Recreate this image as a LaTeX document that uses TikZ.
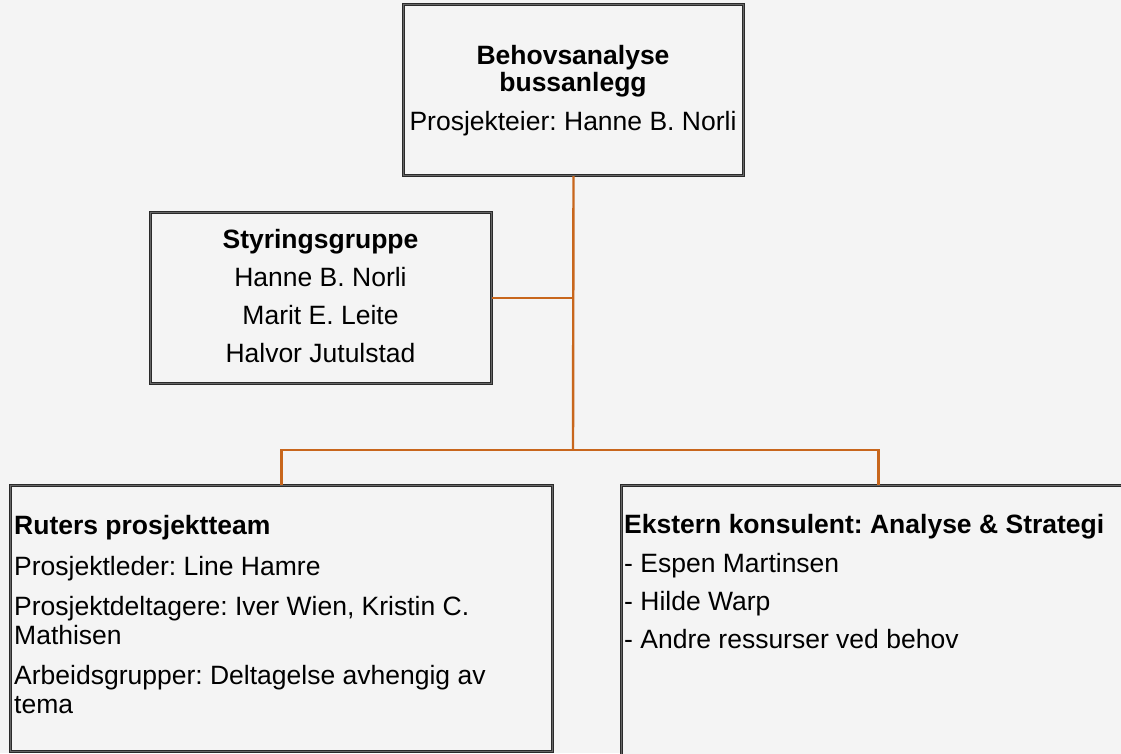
\documentclass[tikz,border=0pt]{standalone}
\usepackage{fontspec}
\setmainfont{Liberation Sans}
\frenchspacing
\definecolor{bg}{HTML}{F4F4F4}
\definecolor{conncol}{HTML}{C8661C}
\definecolor{boxline}{HTML}{2A2A2A}
\begin{document}
\begin{tikzpicture}[x=1pt,y=-1pt,
  box/.style={draw=boxline, double=gray!80!black, double distance=0.4pt, line width=1pt, fill=bg, inner sep=0pt, anchor=north west},
  conn/.style={draw=conncol, line width=2.4pt},
  txt/.style={inner sep=0pt, font=\fontsize{26.5}{30}\selectfont},
  btxt/.style={txt, font=\fontsize{26.5}{30}\selectfont\bfseries}]
\useasboundingbox (0,0) rectangle (1121,753);
\fill[bg] (0,0) rectangle (1121,753);
\clip (0,0) rectangle (1121,753);
% boxes
\node[box, minimum width=340pt, minimum height=171pt] (top) at (403,4) {};
\node[box, minimum width=341pt, minimum height=171pt] (styr) at (150,212) {};
\node[box, minimum width=542pt, minimum height=266pt] (left) at (10,485) {};
\node[box, minimum width=514pt, minimum height=290pt] (right) at (621,485) {};
% connectors
\coordinate (j2) at (573,450);
\draw[conn] (top.south) -- (j2);
\draw[conn] (styr.east) -- (styr.east -| top.south);
\draw[conn] (left.north) |- (j2) -| (right.north);
% top box text
\node[btxt, anchor=base] (t1) at (573,64) {Behovsanalyse};
\node[btxt, anchor=base] (t2) at (573,91) {bussanlegg};
\node[txt, anchor=base] (t3) at (573,130) {Prosjekteier: Hanne B. Norli};
% styringsgruppe
\node[btxt, anchor=base] (s1) at (320.5,248) {Styringsgruppe};
\node[txt, anchor=base] (s2) at (320.5,286) {Hanne B. Norli};
\node[txt, anchor=base] (s3) at (320.5,324) {Marit E. Leite};
\node[txt, anchor=base] (s4) at (320.5,362) {Halvor Jutulstad};
% left box
\node[btxt, anchor=base west] (l1) at (14,534) {Ruters prosjektteam};
\node[txt, anchor=base west] (l2) at (14,575) {Prosjektleder: Line Hamre};
\node[txt, anchor=base west] (l3) at (14,615) {Prosjektdeltagere: Iver Wien, Kristin C.};
\node[txt, anchor=base west] (l4) at (14,644) {Mathisen};
\node[txt, anchor=base west] (l5) at (14,684) {Arbeidsgrupper: Deltagelse avhengig av};
\node[txt, anchor=base west] (l6) at (14,713) {tema};
% right box
\node[btxt, anchor=base west] (r1) at (624,533) {Ekstern konsulent: Analyse \& Strategi};
\node[txt, anchor=base west] (r2) at (624,572) {- Espen Martinsen};
\node[txt, anchor=base west] (r3) at (624,610) {- Hilde Warp};
\node[txt, anchor=base west] (r4) at (624,648) {- Andre ressurser ved behov};
\end{tikzpicture}
\end{document}
